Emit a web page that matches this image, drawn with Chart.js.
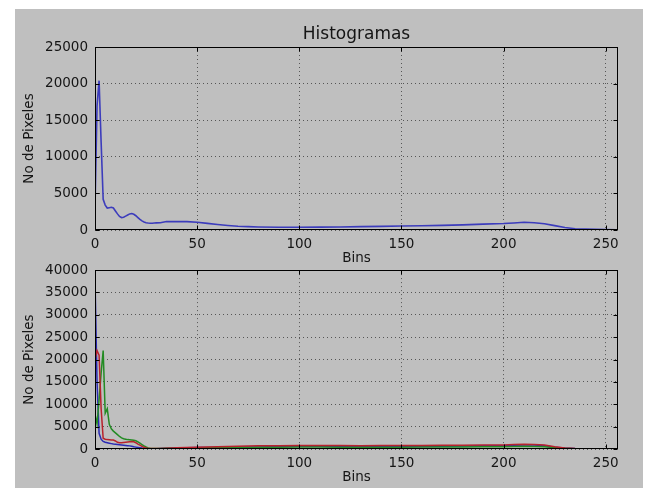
<!DOCTYPE html>
<html><head><meta charset="utf-8">
<script src="https://cdn.jsdelivr.net/npm/chart.js@4/dist/chart.umd.min.js"></script>
<style>
html,body{margin:0;padding:0;background:#fff;width:647px;height:488px;overflow:hidden}
#fig{position:absolute;left:15px;top:9px;width:628px;height:479px;background:#bfbfbf}
canvas{position:absolute}
#c1{left:15px;top:9px}
#c2{left:15px;top:255px}
</style></head><body>
<div id="fig"></div>
<canvas id="c1" width="628" height="260"></canvas>
<canvas id="c2" width="628" height="233"></canvas>
<script>
// ---- data ----
const bins = [0,1,2,3,4,5,6,7,8,9,10,11,12,13,14,15,16,17,18,19,20,21,22,23,24,25,26,27,28,
  30,32,35,38,40,45,50,55,60,65,70,75,80,90,100,110,120,130,140,150,160,170,180,190,200,
  205,210,215,220,225,230,235,240,245,250,255];
const grayCounts = [3000,17000,20400,12000,4200,3400,3000,3050,3100,3000,2600,2200,1850,1700,1750,1900,2050,2200,2250,2150,
  1950,1700,1450,1250,1100,1000,950,920,930,
  980,1000,1150,1150,1150,1150,1050,900,750,620,520,460,420,
  380,370,390,420,460,500,540,580,630,700,800,880,
  960,1050,1000,860,600,350,180,120,90,60,20];
const blueCounts = [38000,15000,3500,2200,1700,1500,1400,1300,1200,1100,1050,1000,950,900,850,800,750,700,600,500,
  420,350,280,200,150,100,80,70,70,
  80,100,150,200,250,300,320,330,350,380,400,430,470,
  550,600,600,580,560,550,560,580,620,650,700,750,
  820,900,880,700,400,200,100,60,40,30,10];
const greenCounts = [7800,5600,11000,17000,22000,8000,9000,5500,4500,4000,3600,3200,2800,2500,2300,2200,2100,2050,2000,1950,
  1850,1600,1300,1000,700,450,250,150,100,
  100,120,150,180,200,230,250,270,290,310,330,350,370,
  400,420,420,410,400,400,410,420,440,460,480,500,
  540,600,580,480,300,150,70,40,25,15,5];
const redCounts = [20000,22000,21000,9000,2400,2200,2100,2050,2000,2000,1800,1500,1400,1400,1450,1500,1550,1600,1650,1600,
  1400,1100,850,600,400,250,150,100,90,
  100,120,180,250,300,350,400,450,500,550,600,650,700,
  750,800,780,760,750,760,780,800,820,850,880,920,
  980,1050,1020,880,500,200,90,50,30,20,10];
const xTicks = [0,50,100,150,200,250];
const yTicksTop = [0,5000,10000,15000,20000,25000];
const yTicksBottom = [0,5000,10000,15000,20000,25000,30000,35000,40000];
const titleText = 'Histogramas';
const xLabel = 'Bins';
const yLabel = 'No de Pixeles';

// ---- styling ----
const FONT = "'DejaVu Sans', sans-serif";
const TXT = '#151515';
const pts = arr => bins.map((b,i)=>({x:b,y:arr[i]}));

const framePlugin = {
  id:'frame',
  afterDraw(chart){
    const {ctx, chartArea:a, scales} = chart;
    const L=Math.round(a.left)+0.5, R=Math.round(a.right)-0.5, T=Math.round(a.top)+0.5, B=Math.round(a.bottom)-0.5;
    ctx.save();
    ctx.strokeStyle='#000'; ctx.lineWidth=1; ctx.setLineDash([]);
    ctx.beginPath();
    scales.x.ticks.forEach(t=>{
      const px=Math.round(scales.x.getPixelForValue(t.value))+0.5;
      ctx.moveTo(px,B); ctx.lineTo(px,B-4);
      ctx.moveTo(px,T); ctx.lineTo(px,T+4);
    });
    scales.y.ticks.forEach(t=>{
      const py=Math.round(scales.y.getPixelForValue(t.value))+0.5;
      ctx.moveTo(L,py); ctx.lineTo(L+4,py);
      ctx.moveTo(R,py); ctx.lineTo(R-4,py);
    });
    ctx.stroke();
    ctx.strokeRect(L,T,R-L,B-T);
    ctx.restore();
  }
};

function makeOptions(yTicks, yMax, withTitle, padTop){
  return {
    responsive:false, animation:false, devicePixelRatio:1,
    layout:{padding:{left:0,right:25,top:padTop,bottom:0}},
    plugins:{
      legend:{display:false}, tooltip:{enabled:false},
      title:{display:withTitle, text:titleText, color:TXT, fullSize:false,
        font:{family:FONT,size:17,weight:'normal'}, padding:{top:15,bottom:2.6}}
    },
    elements:{point:{radius:0}, line:{tension:0}},
    scales:{
      x:{type:'linear', min:0, max:256,
        afterBuildTicks:s=>{s.ticks=xTicks.map(v=>({value:v}));},
        afterFit:s=>{s.height=39;},
        ticks:{color:TXT, font:{family:FONT,size:13.5}, padding:6, maxRotation:0, autoSkip:false,
          callback:v=>String(v)},
        grid:{color:'rgba(0,0,0,0.55)', lineWidth:1, drawTicks:false},
        border:{display:false, dash:[1,3]},
        title:{display:true, text:xLabel, color:TXT, font:{family:FONT,size:13.5}, padding:{top:0,bottom:2}}
      },
      y:{type:'linear', min:0, max:yMax,
        afterBuildTicks:s=>{s.ticks=yTicks.map(v=>({value:v}));},
        afterFit:s=>{s.width=80;},
        ticks:{color:TXT, font:{family:FONT,size:13.5}, padding:7, autoSkip:false,
          callback:v=>String(v)},
        grid:{color:'rgba(0,0,0,0.55)', lineWidth:1, drawTicks:false},
        border:{display:false, dash:[1,3]},
        title:{display:true, text:yLabel, color:TXT, font:{family:FONT,size:13.5}, padding:{top:6,bottom:0}}
      }
    }
  };
}

new Chart(document.getElementById('c1'), {
  type:'line',
  data:{datasets:[{data:pts(grayCounts), borderColor:'#3c3cbc', borderWidth:1.6, fill:false}]},
  options:makeOptions(yTicksTop, 25000, true, 0),
  plugins:[framePlugin]
});

new Chart(document.getElementById('c2'), {
  type:'line',
  data:{datasets:[
    {data:pts(redCounts), borderColor:'#b8222c', borderWidth:1.5, fill:false},
    {data:pts(greenCounts), borderColor:'#238b23', borderWidth:1.5, fill:false},
    {data:pts(blueCounts), borderColor:'#2a2ab4', borderWidth:1.5, fill:false}
  ]},
  options:makeOptions(yTicksBottom, 40000, false, 11),
  plugins:[framePlugin]
});
</script>
</body></html>
